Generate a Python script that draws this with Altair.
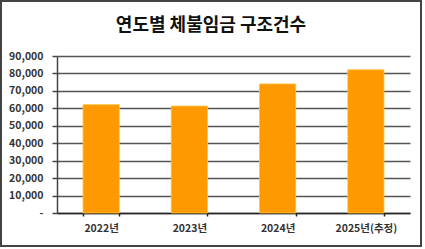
import altair as alt
import pandas as pd

years = ["2022년", "2023년", "2024년", "2025년(추정)"]
cases = [62100, 61300, 74000, 82100]
y_ticks = [0, 10000, 20000, 30000, 40000, 50000, 60000, 70000, 80000, 90000]
title_text = "연도별 체불임금 구조건수"

df = pd.DataFrame({"year": years, "cases": cases})
FONT = "Noto Sans CJK KR"

bars = alt.Chart(df).mark_bar(
    color="#FF9900", stroke="#FFC233", strokeWidth=0.8
).encode(
    x=alt.X("year:N", sort=years,
            scale=alt.Scale(paddingInner=0.59, paddingOuter=0.295),
            axis=alt.Axis(title=None, labelAngle=0, tickBand="extent",
                          tickSize=3, tickColor="#222", tickWidth=1.5,
                          domainColor="#222", domainWidth=1.5,
                          labelFont=FONT, labelFontSize=10.5, labelFontWeight="bold",
                          labelColor="#333", labelPadding=7, grid=False)),
    y=alt.Y("cases:Q", scale=alt.Scale(domain=[0, 90000], nice=False),
            axis=alt.Axis(title=None, values=y_ticks,
                          labelExpr="datum.value == 0 ? '-' : format(datum.value, ',')",
                          tickSize=5, tickColor="#444", tickWidth=1.5,
                          domainColor="#444", domainWidth=1.5,
                          gridColor="#555", gridWidth=1.5,
                          labelFont=FONT, labelFontSize=10.5, labelFontWeight="bold",
                          labelColor="#333", labelPadding=9)),
)

one = pd.DataFrame({"t": [title_text]})

frame = alt.Chart(one).mark_rect(
    fill="transparent", stroke="#444", strokeWidth=2, clip=False
).encode(
    x=alt.value(-56), x2=alt.value(364), y=alt.value(-55), y2=alt.value(190)
)

title = alt.Chart(one).mark_text(
    font=FONT, fontSize=18, fontWeight="bold", color="#111",
    align="center", baseline="middle", clip=False
).encode(
    text="t:N", x=alt.value(154), y=alt.value(-30)
)

chart = alt.layer(bars, frame, title).properties(
    width=353, height=157,
    autosize=alt.AutoSizeParams(type="none"),
    padding={"left": 57, "top": 56, "right": 15, "bottom": 36},
    background="white",
).configure_view(strokeWidth=0)

chart.save("out.html", embed_options={"renderer": "svg", "actions": False})
